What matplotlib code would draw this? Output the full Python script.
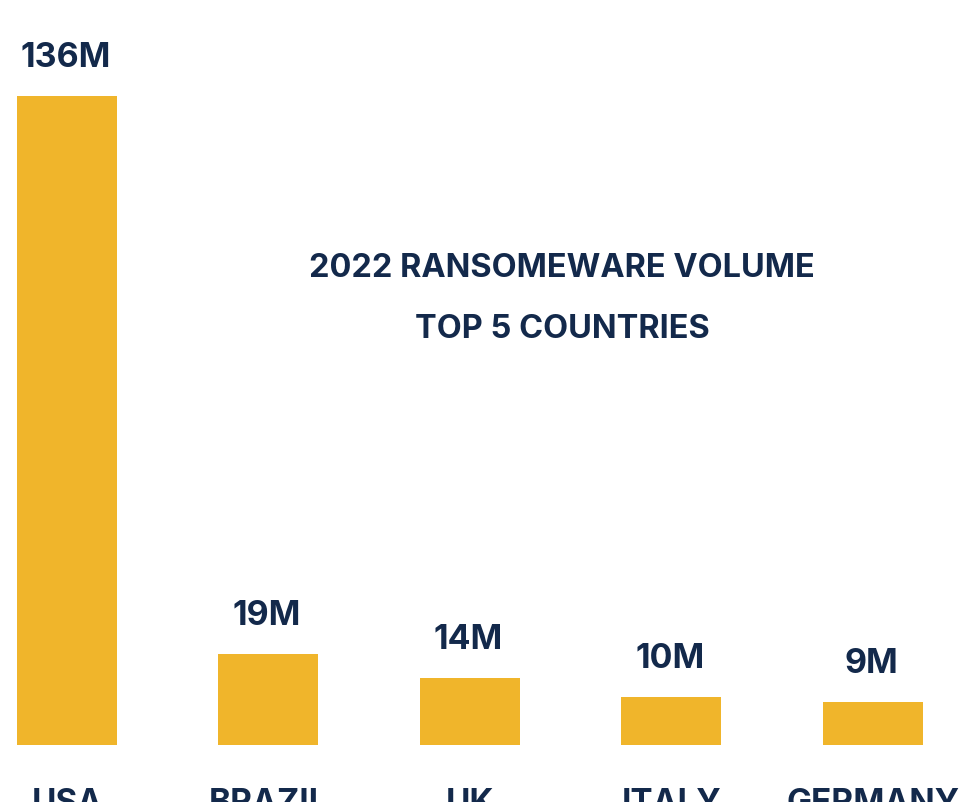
import matplotlib
matplotlib.use("Agg")
import matplotlib.pyplot as plt

# data
countries = ["USA", "BRAZIL", "UK", "ITALY", "GERMANY"]
volume_m = [136, 19, 14, 10, 9]
value_labels = ["136M", "19M", "14M", "10M", "9M"]
title_lines = ["2022 RANSOMEWARE VOLUME", "TOP 5 COUNTRIES"]

BAR_COLOR = "#F0B52B"
TEXT_COLOR = "#13294B"

plt.rcParams["font.family"] = ["Inter", "DejaVu Sans"]

W, H = 967, 803
fig = plt.figure(figsize=(W / 100, H / 100), dpi=100)
fig.patch.set_facecolor("white")

# axes: baseline at y=746px, top of figure at 0px
ax = fig.add_axes([0, (H - 746) / H, 1, 746 / H])
ax.set_xlim(-67 / 201.5, (W - 67) / 201.5)
ax.set_ylim(0, 136 * 746 / 649)
ax.axis("off")

x = list(range(len(countries)))
ax.bar(x, volume_m, width=100 / 201.5, color=BAR_COLOR, edgecolor="none")

for xi, v, lab in zip(x, volume_m, value_labels):
    ax.annotate(lab, (xi, v), xytext=(-1, 21.5), textcoords="offset points",
                ha="center", va="baseline", fontsize=24.5, fontweight="bold",
                color=TEXT_COLOR)

# country names, cut by the bottom edge like in the source image
for xi, name in zip(x, countries):
    ax.annotate(name, (xi, 0), xytext=(0, -48.5), textcoords="offset points",
                ha="center", va="baseline", fontsize=24, fontweight="bold",
                color=TEXT_COLOR, annotation_clip=False)

# centred title
fig.text(562 / W, 1 - 277 / H, title_lines[0], ha="center", va="baseline",
         fontsize=23.4, fontweight="bold", color=TEXT_COLOR)
fig.text(562 / W, 1 - 338 / H, title_lines[1], ha="center", va="baseline",
         fontsize=23.4, fontweight="bold", color=TEXT_COLOR)

fig.savefig("out.png", dpi=100)
